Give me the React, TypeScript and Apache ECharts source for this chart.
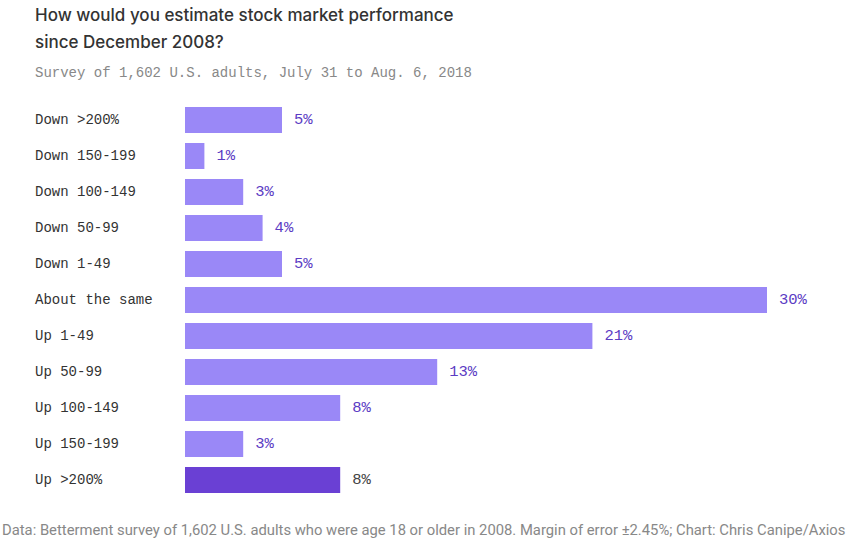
import React, { useEffect, useRef } from "react";
import * as echarts from "echarts";

const categories = [
  "Down >200%",
  "Down 150-199",
  "Down 100-149",
  "Down 50-99",
  "Down 1-49",
  "About the same",
  "Up 1-49",
  "Up 50-99",
  "Up 100-149",
  "Up 150-199",
  "Up >200%",
];
const values = [5, 1, 3, 4, 5, 30, 21, 13, 8, 3, 8];
const highlightIndex = 10;

const titleText = "How would you estimate stock market performance\nsince December 2008?";
const subtitleText = "Survey of 1,602 U.S. adults, July 31 to Aug. 6, 2018";
const footerText =
  "Data: Betterment survey of 1,602 U.S. adults who were age 18 or older in 2008. Margin of error \u00b12.45%; Chart: Chris Canipe/Axios";

export default function App() {
  const ref = useRef<HTMLDivElement>(null);
  useEffect(() => {
    if (!ref.current) return;
    const chart = echarts.init(ref.current, null, { renderer: "svg" });
    const mono = "'Liberation Mono', 'DejaVu Sans Mono', monospace";
    chart.setOption({
      animation: false,
      backgroundColor: "#ffffff",
      title: [
        {
          text: titleText,
          left: 35,
          top: 1,
          padding: 0,
          textStyle: {
            fontFamily: "Inter, 'Noto Sans', sans-serif",
            fontSize: 17,
            fontWeight: 500,
            color: "#333333",
            lineHeight: 27,
          },
        },
        {
          text: subtitleText,
          left: 35,
          top: 66,
          padding: 0,
          textStyle: {
            fontFamily: mono,
            fontSize: 14,
            fontWeight: "normal",
            color: "#888888",
          },
        },
        {
          text: footerText,
          left: 2,
          top: 522,
          padding: 0,
          textStyle: {
            fontFamily: "Roboto, 'Noto Sans', sans-serif",
            fontSize: 14.8,
            fontWeight: "normal",
            color: "#888888",
          },
        },
      ],
      grid: { left: 185, right: 81, top: 102, bottom: 52, containLabel: false },
      xAxis: {
        type: "value",
        min: 0,
        max: 30,
        show: false,
      },
      yAxis: {
        type: "category",
        data: categories,
        inverse: true,
        axisLine: { show: false },
        axisTick: { show: false },
        splitLine: { show: false },
        axisLabel: {
          align: "left",
          margin: 150,
          fontFamily: mono,
          fontSize: 14,
          color: "#333333",
        },
      },
      series: [
        {
          type: "bar",
          barWidth: 26,
          data: values.map((v, i) => ({
            value: v,
            itemStyle: { color: i === highlightIndex ? "#6a40d4" : "#9a88f7" },
            label: { color: i === highlightIndex ? "#444444" : "#5b3cc4" },
          })),
          label: {
            show: true,
            position: "right",
            distance: 12,
            formatter: "{c}%",
            fontFamily: mono,
            fontSize: 15.5,
          },
        },
      ],
    });
    return () => chart.dispose();
  }, []);
  return <div ref={ref} style={{ width: 848, height: 550, position: "absolute", left: 0, top: 0 }} />;
}
